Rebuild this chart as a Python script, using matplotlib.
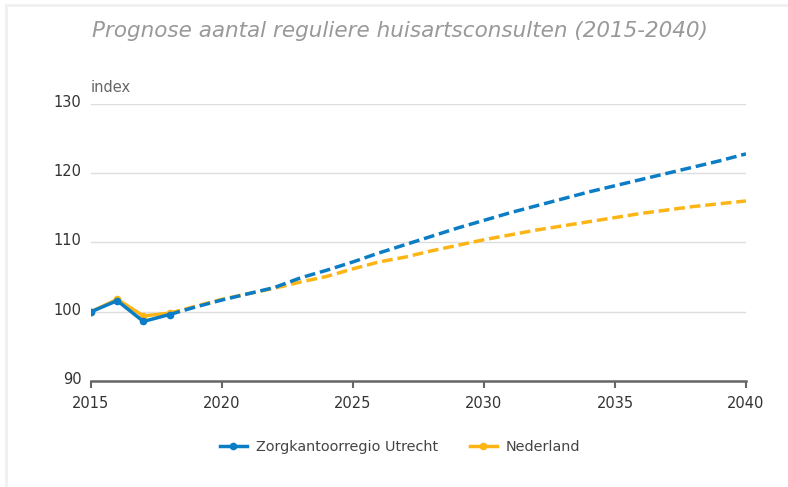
import matplotlib
matplotlib.use("Agg")
import matplotlib.pyplot as plt
from matplotlib.lines import Line2D
from matplotlib.transforms import ScaledTranslation

plt.rcParams['font.family'] = ['DejaVu Sans']

# Observed years (solid, with markers) and forecast years (dashed)
years_obs = [2015, 2016, 2017, 2018]
years_fc = list(range(2018, 2041))

utrecht_obs = [100.0, 101.6, 98.6, 99.6]
utrecht_fc = [99.6, 100.7, 101.7, 102.6, 103.5, 104.9, 106.0, 107.2, 108.5,
              109.7, 110.9, 112.1, 113.2, 114.3, 115.3, 116.3, 117.3, 118.2,
              119.1, 120.0, 120.9, 121.8, 122.8]

nederland_obs = [100.0, 101.8, 99.4, 99.8]
nederland_fc = [99.8, 100.8, 101.8, 102.6, 103.4, 104.3, 105.1, 106.2, 107.2,
                107.9, 108.8, 109.6, 110.4, 111.1, 111.8, 112.4, 113.0, 113.6,
                114.2, 114.7, 115.2, 115.6, 116.0]

series_names = ["Zorgkantoorregio Utrecht", "Nederland"]
x_ticks = [2015, 2020, 2025, 2030, 2035, 2040]
y_ticks = [90, 100, 110, 120, 130]

BLUE = "#0b7dc5"
YELLOW = "#fdb515"
LW = 2.5
DASH = (3.1, 1.4)

fig = plt.figure(figsize=(7.88, 4.87), dpi=100)
ax = fig.add_axes([91 / 788, 1 - 381 / 487, (746 - 91) / 788, (381 - 104) / 487])

# Nederland underneath, Utrecht on top
ax.plot(years_obs, nederland_obs, color=YELLOW, lw=LW, marker="o", ms=4.5,
        solid_joinstyle="round", zorder=3)
ax.plot(years_fc, nederland_fc, color=YELLOW, lw=LW, dashes=DASH, zorder=3)
ax.plot(years_obs, utrecht_obs, color=BLUE, lw=LW, marker="o", ms=4.5,
        solid_joinstyle="round", zorder=4)
ax.plot(years_fc, utrecht_fc, color=BLUE, lw=LW, dashes=DASH, zorder=4)

ax.set_xlim(2015, 2040)
ax.set_ylim(90, 130)
ax.set_xticks(x_ticks)
ax.set_yticks(y_ticks)
ax.tick_params(axis="x", length=5, width=1.5, color="#666666", labelsize=10.5,
               labelcolor="#333333", pad=6)
ax.tick_params(axis="y", length=0, labelsize=10.5, labelcolor="#333333", pad=7)
lift = ScaledTranslation(0, 3 / 100, fig.dpi_scale_trans)
for t in ax.get_yticklabels():
    t.set_transform(t.get_transform() + lift)

ax.grid(axis="y", color="#dddddd", lw=1)
ax.set_axisbelow(True)
for s in ["top", "right", "left"]:
    ax.spines[s].set_visible(False)
ax.spines["bottom"].set_color("#666666")
ax.spines["bottom"].set_linewidth(1.8)
ax.spines["bottom"].set_zorder(5)

fig.text(91 / 788, 1 - 88 / 487, "index", fontsize=10.5, color="#666666",
         ha="left", va="center")

fig.text(400 / 788, 1 - 31 / 487, "Prognose aantal reguliere huisartsconsulten (2015-2040)",
         fontsize=15.5, style="italic", color="#999999", ha="center", va="center")

handles = [Line2D([], [], color=BLUE, lw=LW, marker="o", ms=4.5),
           Line2D([], [], color=YELLOW, lw=LW, marker="o", ms=4.5)]
leg = fig.legend(handles, series_names, loc="center", bbox_to_anchor=(400 / 788, 1 - 447 / 487),
                 ncol=2, frameon=False, fontsize=10.4, handlelength=1.9,
                 handletextpad=0.6, columnspacing=2.2)
for t in leg.get_texts():
    t.set_color("#444444")

# faint frame lines along the top and left edges
fig.add_artist(Line2D([6 / 788, 1], [1 - 5 / 487, 1 - 5 / 487], color="#f0f0f0", lw=2,
                      transform=fig.transFigure))
fig.add_artist(Line2D([6 / 788, 6 / 788], [0, 1 - 5 / 487], color="#f0f0f0", lw=2,
                      transform=fig.transFigure))

fig.savefig("out.png", dpi=100, facecolor="white")
